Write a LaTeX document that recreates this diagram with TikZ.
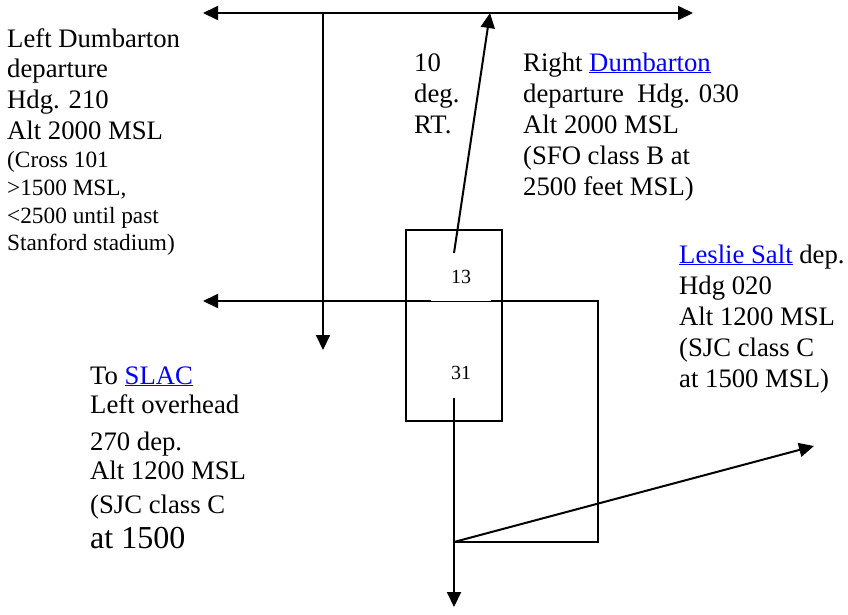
\documentclass[tikz,border=0pt]{standalone}
\usepackage{fontspec}
\setmainfont{Liberation Serif}
\usetikzlibrary{arrows.meta}
\definecolor{linkblue}{RGB}{0,0,255}
\newcommand\lnk[1]{\textcolor{linkblue}{\underline{#1}}}
\tikzset{
  big/.style={anchor=base west, inner sep=0pt, font=\fontsize{26.7}{30}\selectfont},
  small/.style={anchor=base west, inner sep=0pt, font=\fontsize{23.3}{27}\selectfont},
  huge/.style={anchor=base west, inner sep=0pt, font=\fontsize{32}{36}\selectfont},
  rwylbl/.style={inner sep=0pt, font=\fontsize{20}{22}\selectfont},
  route/.style={line width=2pt},
  tip/.style={-{Triangle[length=15pt,width=14pt]}},
  twotip/.style={{Triangle[length=15pt,width=14pt]}-{Triangle[length=15pt,width=14pt]}},
}
\begin{document}
\begin{tikzpicture}[x=1pt,y=-1pt]
\useasboundingbox (0,0) rectangle (848,614);
% runway box
\node[draw, line width=1.5pt, minimum width=96pt, minimum height=191pt, inner sep=0pt] (rwy) at (454,325.5) {};
\node[rwylbl] (r13) at (461,277) {13};
\node[rwylbl] (r31) at (461,373) {31};
% coordinates
\coordinate (TL) at (203,13);
\coordinate (TR) at (693,13);
\coordinate (T1) at (323,13);
\coordinate (D1) at (323,350);
\coordinate (A0) at (454,253);
\coordinate (A1) at (490,13);
\coordinate (L2) at (203,301);
\coordinate (G1) at (431,301);
\coordinate (G2) at (491,301);
\coordinate (RC) at (598,301);
\coordinate (RB) at (598,542);
\coordinate (J) at (454,542);
\coordinate (V0) at (454,398);
\coordinate (V1) at (454,607);
\coordinate (E1) at (814,446);
% connectors
\draw[route, twotip] (TL) -- (TR);
\draw[route, tip] (T1) -- (D1);
\draw[route, tip] (A0) -- (A1);
\draw[route, tip] (G1) -- (L2);
\draw[line width=1pt] (G1) -- (G2);
\draw[route] (G2) -- (RC) -- (RB) -- (J);
\draw[route, tip] (V0) -- (V1);
\draw[route, tip] (J) -- (E1);
% left block
\node[big] (l1) at (7,47) {Left Dumbarton};
\node[big] (l2) at (7,77) {departure};
\node[big] (l3) at (7,108) {Hdg. 210};
\node[big] (l4) at (7,139) {Alt 2000 MSL};
\node[small] (l5) at (7,167) {(Cross 101};
\node[small] (l6) at (7,195) {>1500 MSL,};
\node[small] (l7) at (7,223) {<2500 until past};
\node[small] (l8) at (7,250) {Stanford stadium)};
% 10 deg RT
\node[big] (d1) at (414,71) {10};
\node[big] (d2) at (414,102) {deg.};
\node[big] (d3) at (414,133) {RT.};
% right block
\node[big] (r1) at (523,71) {Right \lnk{Dumbarton}};
\node[big] (r2) at (523,102) {departure\ \ Hdg. 030};
\node[big] (r3) at (523,133) {Alt 2000 MSL};
\node[big] (r4) at (523,164) {(SFO class B at};
\node[big] (r5) at (523,195) {2500 feet MSL)};
% Leslie Salt block
\node[big] (s1) at (679,263) {\lnk{Leslie Salt} dep.};
\node[big] (s2) at (679,294) {Hdg 020};
\node[big] (s3) at (679,325) {Alt 1200 MSL};
\node[big] (s4) at (679,356) {(SJC class C};
\node[big] (s5) at (679,387) {at 1500 MSL)};
% SLAC block
\node[big] (c1) at (90,384) {To \lnk{SLAC}};
\node[big] (c2) at (90,413) {Left overhead};
\node[big] (c3) at (90,450) {270 dep.};
\node[big] (c4) at (90,479) {Alt 1200 MSL};
\node[big] (c5) at (90,513) {(SJC class C};
\node[huge] (c6) at (90,548) {at 1500};
\end{tikzpicture}
\end{document}
